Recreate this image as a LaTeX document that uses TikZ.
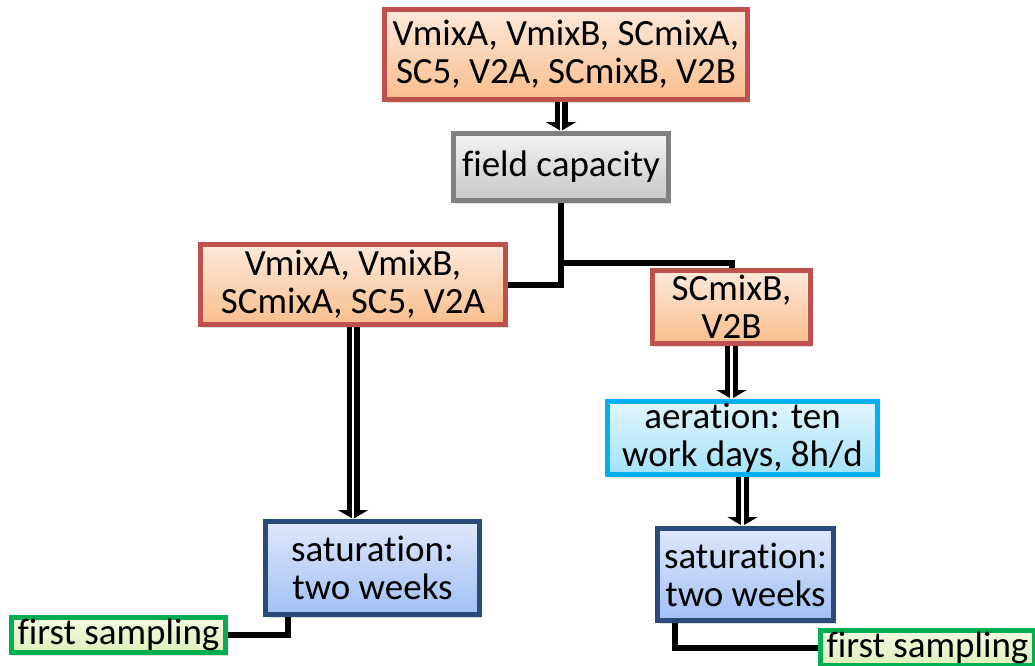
\documentclass[tikz,border=0pt]{standalone}
\usepackage{fontspec}
\setmainfont{Carlito}[Ligatures={NoCommon}]
\usetikzlibrary{arrows.meta,shadows,calc}
\definecolor{redb}{HTML}{C0504D}
\definecolor{orT}{HTML}{FDE9DB}
\definecolor{orB}{HTML}{F9BE8C}
\definecolor{grayb}{HTML}{7F7F7F}
\definecolor{grT}{HTML}{F4F4F4}
\definecolor{grB}{HTML}{C6C6C6}
\definecolor{blueb}{HTML}{2A4A7A}
\definecolor{blT}{HTML}{DEE8FB}
\definecolor{blB}{HTML}{A2C0F5}
\definecolor{cyanb}{HTML}{00B0F0}
\definecolor{cyT}{HTML}{E2F5FD}
\definecolor{cyB}{HTML}{A4E2F8}
\definecolor{greenb}{HTML}{00B050}
\definecolor{gnT}{HTML}{F4FAE4}
\definecolor{gnB}{HTML}{DDF0B8}
\tikzset{
  box/.style={rectangle, inner sep=0pt, align=center, line width=5pt,
    font=\fontsize{37}{38}\selectfont,
    drop shadow={shadow xshift=2pt, shadow yshift=-3pt, opacity=0.25}},
  orangebox/.style={box, draw=redb, top color=orT, bottom color=orB},
  graybox/.style={box, draw=grayb, top color=grT, bottom color=grB},
  bluebox/.style={box, draw=blueb, top color=blT, bottom color=blB},
  cyanbox/.style={box, draw=cyanb, top color=cyT, bottom color=cyB},
  greenbox/.style={box, draw=greenb, top color=gnT, bottom color=gnB},
  dbl/.style={draw=black, line width=13pt,
    -{Triangle[width=30pt,length=9pt]},
    postaction={draw=white, line width=2.8pt, -}},
  conn/.style={draw=black, line width=6pt}
}
\begin{document}
\begin{tikzpicture}[x=1pt,y=-1pt]
\useasboundingbox (0,0) rectangle (1035,665);
\node[orangebox, minimum width=363pt, minimum height=90pt] (top) at (566,54.5)
  {VmixA, VmixB, SCmixA,\\SC5, V2A, SCmixB, V2B};
\node[graybox, minimum width=215pt, minimum height=67pt] (fc) at (561,167)
  {field capacity};
\node[orangebox, minimum width=305pt, minimum height=80pt] (left) at (353,284.5)
  {VmixA, VmixB,\\SCmixA, SC5, V2A};
\node[orangebox, minimum width=158pt, minimum height=73pt] (right) at (731.5,307)
  {SCmixB,\\V2B};
\node[cyanbox, minimum width=270pt, minimum height=73pt] (aer) at (742.5,438)
  {aeration: ten\\work days, 8h/d};
\node[bluebox, minimum width=214pt, minimum height=93pt] (satL) at (372.5,568)
  {saturation:\\two weeks};
\node[bluebox, minimum width=176pt, minimum height=92pt] (satR) at (745.5,574.5)
  {saturation:\\two weeks};
\node[greenbox, minimum width=214pt, minimum height=35pt] (fsL) at (118.5,635)
  {first sampling};
\node[greenbox, minimum width=214pt, minimum height=35pt] (fsR) at (927.5,648)
  {first sampling};
\coordinate (j) at (561,263);
\draw[dbl] (top.south -| fc.north) -- (fc.north);
\draw[dbl] (left.south) -- (left.south |- satL.north);
\draw[dbl] (right.south) -- (right.south |- aer.north);
\draw[dbl] (aer.south) -- (aer.south |- satR.north);
\draw[conn] (fc.south) |- (left.east);
\draw[conn] (j) -| (right.north);
\draw[conn] ($(satL.south west)!0.115!(satL.south east)$) |- (fsL.east);
\draw[conn] ($(satR.south west)!0.11!(satR.south east)$) |- (fsR.west);
\end{tikzpicture}
\end{document}
